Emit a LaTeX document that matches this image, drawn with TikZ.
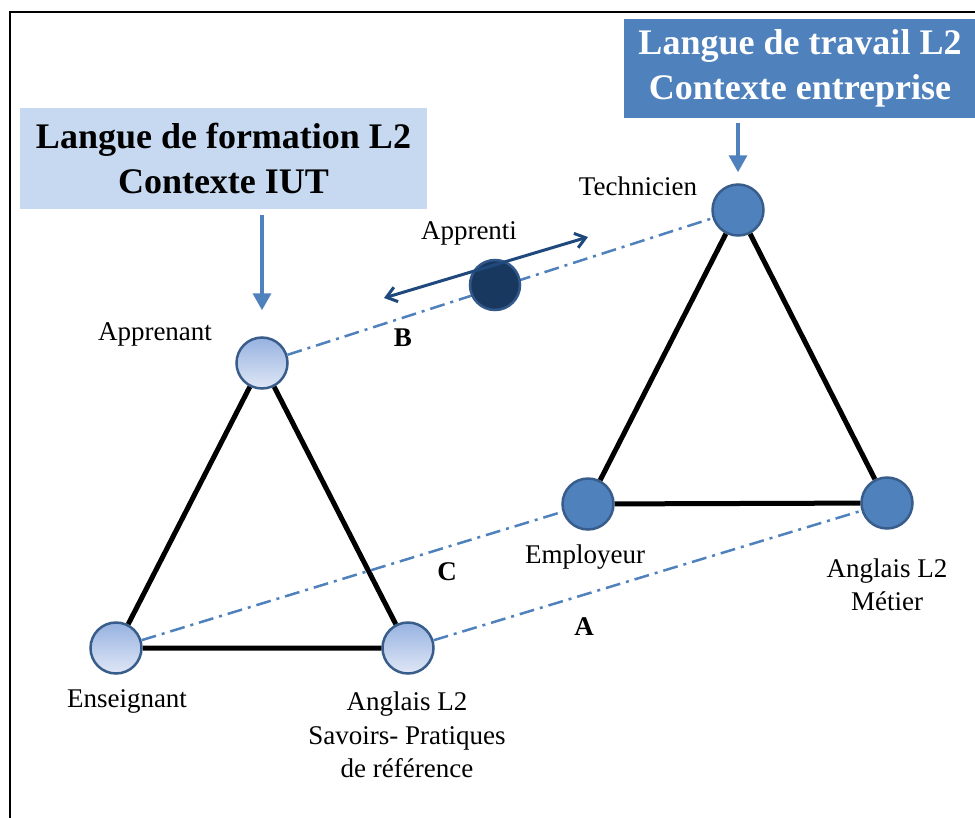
\documentclass[tikz,border=0pt]{standalone}
\usepackage{fontspec}
\setmainfont{Liberation Serif}
\usepackage{xcolor}
\usepackage{tikz}
\usetikzlibrary{arrows.meta, positioning, calc}
\definecolor{bleuoffice}{RGB}{79, 129, 189}
\definecolor{bordbleu}{RGB}{56, 93, 138}
\definecolor{cieltitre}{RGB}{198, 217, 241}
\definecolor{degradehaut}{RGB}{150, 178, 224}
\definecolor{degradebas}{RGB}{224, 231, 246}
\definecolor{apprentifond}{RGB}{24, 56, 96}
\definecolor{apprentibord}{RGB}{50, 88, 138}
\definecolor{marine}{RGB}{31, 73, 125}

\tikzset{
    sommet/.style={circle, minimum size=51pt, inner sep=0pt, line width=2.5pt, draw=bordbleu},
    sommetiut/.style={sommet, top color=degradehaut, bottom color=degradebas},
    sommetent/.style={sommet, fill=bleuoffice},
    cote/.style={line width=5pt, black},
    lien/.style={bleuoffice, line width=2.5pt, dash pattern=on 15pt off 6pt on 3pt off 6pt},
    fleche/.style={bleuoffice, line width=3.5pt, -{Triangle[length=17pt, width=18pt]}},
    allerretour/.style={marine, line width=3pt, {Straight Barb[length=10pt, width=15pt]}-{Straight Barb[length=10pt, width=15pt]}},
    etiq/.style={font=\fontsize{27}{33.5}\selectfont, align=center, inner sep=0pt},
    lettre/.style={font=\fontsize{27}{33}\selectfont\bfseries, inner sep=0pt},
    titre/.style={font=\fontsize{36}{45}\selectfont\bfseries, align=center, inner sep=0pt}
}

\begin{document}
\begin{tikzpicture}[x=1pt, y=-1pt]
    \useasboundingbox (0,0) rectangle (975,817);
    \fill[white] (0,0) rectangle (975,817);
    \draw[line width=2pt] (10,830) -- (10,12) -- (990,12);

    \node[titre, fill=cieltitre, minimum width=407pt, minimum height=101pt] (formation) at (223.5,158.5)
        {Langue de formation L2\\Contexte IUT};
    \node[titre, fill=bleuoffice, text=white, minimum width=352pt, minimum height=99pt] (travail) at (800,68.5)
        {Langue de travail L2\\Contexte entreprise};

    \node[sommetiut] (apprenant) at (262,363) {};
    \node[sommetiut] (enseignant) at (116,648) {};
    \node[sommetiut] (anglaisiut) at (408,648) {};
    \node[sommetent] (technicien) at (738,210) {};
    \node[sommetent] (employeur) at (588,504) {};
    \node[sommetent] (anglaismetier) at (887,503) {};

    \draw[fleche] ($(formation.south -| apprenant)+(0,6)$) -- ($(apprenant.north)+(0,-26)$);
    \draw[fleche] ($(travail.south -| technicien)+(0,5)$) -- ($(technicien.north)+(0,-11)$);

    \draw[cote] (apprenant) -- (enseignant) -- (anglaisiut) -- (apprenant);
    \draw[cote] (technicien) -- (employeur) -- (anglaismetier) -- (technicien);

    \draw[lien] (apprenant) -- (technicien);
    \draw[lien] (enseignant) -- (employeur);
    \draw[lien] (anglaisiut) -- (anglaismetier);

    \node[circle, minimum size=50pt, inner sep=0pt, line width=2.5pt, draw=apprentibord, fill=apprentifond] (apprenti) at (495,285) {};
    \coordinate (allerG) at (384,298);
    \coordinate (allerD) at (588,237);
    \draw[allerretour] (allerG) -- (allerD);

    \node[etiq] (lblapprenti) at (469,233) {Apprenti};
    \node[etiq] (lbltechnicien) at (638,186) {Technicien};
    \node[etiq] (lblapprenant) at (155,334) {Apprenant};
    \node[etiq] (lblemployeur) at (585,557) {Employeur};
    \node[etiq] (lblmetier) at (887,585) {Anglais L2\\Métier};
    \node[etiq] (lblenseignant) at (127,701) {Enseignant};
    \node[etiq] (lblsavoirs) at (407,735) {Anglais L2\\Savoirs- Pratiques\\de référence};
    \node[lettre] (lettreB) at (403,338) {B};
    \node[lettre] (lettreC) at (447,572) {C};
    \node[lettre] (lettreA) at (584,627) {A};
\end{tikzpicture}
\end{document}
